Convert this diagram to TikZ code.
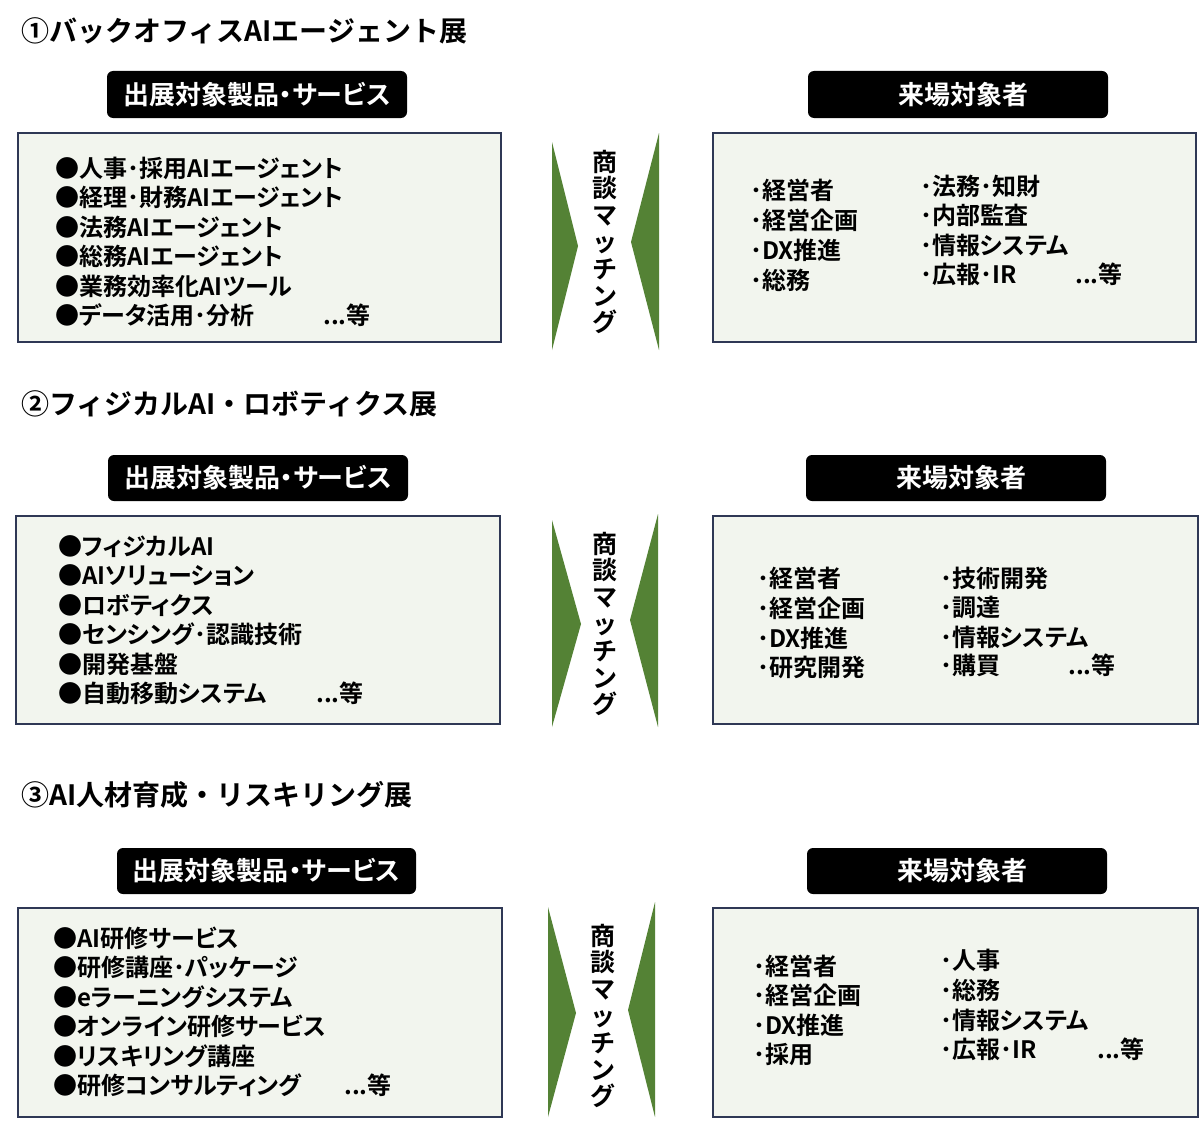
\documentclass[tikz,border=0pt]{standalone}
\usepackage{fontspec}
\setmainfont{Noto Sans CJK JP}[BoldFont={* Bold}]
\newfontfamily\jpp{Noto Sans CJK JP}[BoldFont={* Bold}, RawFeature=+palt]
\definecolor{boxfill}{HTML}{F2F5EE}
\definecolor{boxline}{HTML}{2F3855}
\definecolor{arrowgreen}{HTML}{548235}
\tikzset{
  titletext/.style={anchor=west, inner sep=0pt, font=\bfseries\fontsize{28}{31}\selectfont, text height=24.6pt, text depth=3.4pt},
  labelbox/.style={fill=black, rounded corners=6pt},
  labeltext/.style={text=white, inner sep=0pt, font=\jpp\bfseries\fontsize{26}{28}\selectfont},
  contentbox/.style={fill=boxfill, draw=boxline, line width=2pt},
  itemtext/.style={anchor=west, inner sep=0pt, font=\jpp\bfseries\fontsize{24}{26}\selectfont, text height=21pt, text depth=3pt},
  chevron/.style={fill=arrowgreen, draw=none},
  vtext/.style={align=center, inner sep=0pt, font=\bfseries\fontsize{25}{26.8}\selectfont},
}
\begin{document}
\begin{tikzpicture}[x=1pt,y=-1pt]
\useasboundingbox (0,0) rectangle (1200,1132);
\fill[white] (0,0) rectangle (1200,1132);

% ===== Section 1 =====
\node[titletext] (t1) at (21,31) {①バックオフィスAIエージェント展};
\fill[labelbox] (107,71) rectangle (407,118);
\node[labeltext] (l1) at (257,94.5) {出展対象製品・サービス};
\fill[labelbox] (808,71) rectangle (1108,118);
\node[labeltext] (r1) at (963,94.5) {来場対象者};
\draw[contentbox] (18,133) rectangle (501,342);
\draw[contentbox] (713,133) rectangle (1196,342);
\fill[chevron] (552,142) -- (578,246) -- (552,350) -- cycle;
\fill[chevron] (659,133) -- (631,242) -- (659,350) -- cycle;
\node[vtext] (m1) at (605,242) {商\\談\\マ\\ッ\\チ\\ン\\グ};
\node[itemtext] (a1) at (55,168) {●人事･採用AIエージェント};
\node[itemtext] (a2) at (55,197.5) {●経理･財務AIエージェント};
\node[itemtext] (a3) at (55,227) {●法務AIエージェント};
\node[itemtext] (a4) at (55,256.5) {●総務AIエージェント};
\node[itemtext] (a5) at (55,286) {●業務効率化AIツール};
\node[itemtext] (a6) at (55,315.5) {●データ活用･分析};
\node[itemtext] (a7) at (323,315.5) {...等};
\node[itemtext] (b1) at (750,190) {･経営者};
\node[itemtext] (b2) at (750,220) {･経営企画};
\node[itemtext] (b3) at (750,250) {･DX推進};
\node[itemtext] (b4) at (750,280) {･総務};
\node[itemtext] (c1) at (920,186) {･法務･知財};
\node[itemtext] (c2) at (920,215) {･内部監査};
\node[itemtext] (c3) at (920,245) {･情報システム};
\node[itemtext] (c4) at (920,274) {･広報･IR};
\node[itemtext] (c5) at (1075,274) {...等};

% ===== Section 2 =====
\node[titletext] (t2) at (21,404) {②フィジカルAI・ロボティクス展};
\fill[labelbox] (108,455) rectangle (408,501);
\node[labeltext] (l2) at (258,478) {出展対象製品・サービス};
\fill[labelbox] (806,455) rectangle (1106,501);
\node[labeltext] (r2) at (961,478) {来場対象者};
\draw[contentbox] (16,516) rectangle (500,724);
\draw[contentbox] (713,516) rectangle (1198,724);
\fill[chevron] (552,520) -- (581,624) -- (552,727) -- cycle;
\fill[chevron] (658,514) -- (630,620) -- (658,727) -- cycle;
\node[vtext] (m2) at (605,624) {商\\談\\マ\\ッ\\チ\\ン\\グ};
\node[itemtext] (d1) at (58,546) {●フィジカルAI};
\node[itemtext] (d2) at (58,575.5) {●AIソリューション};
\node[itemtext] (d3) at (58,605) {●ロボティクス};
\node[itemtext] (d4) at (58,634.5) {●センシング･認識技術};
\node[itemtext] (d5) at (58,664) {●開発基盤};
\node[itemtext] (d6) at (58,693.5) {●自動移動システム};
\node[itemtext] (d7) at (316,693.5) {...等};
\node[itemtext] (e1) at (757,578) {･経営者};
\node[itemtext] (e2) at (757,608) {･経営企画};
\node[itemtext] (e3) at (757,638) {･DX推進};
\node[itemtext] (e4) at (757,667) {･研究開発};
\node[itemtext] (f1) at (940,578) {･技術開発};
\node[itemtext] (f2) at (940,607) {･調達};
\node[itemtext] (f3) at (940,637) {･情報システム};
\node[itemtext] (f4) at (940,665) {･購買};
\node[itemtext] (f5) at (1068,665) {...等};

% ===== Section 3 =====
\node[titletext] (t3) at (21,795) {③AI人材育成・リスキリング展};
\fill[labelbox] (117,848) rectangle (416,894);
\node[labeltext] (l3) at (266.5,871) {出展対象製品・サービス};
\fill[labelbox] (807,848) rectangle (1107,894);
\node[labeltext] (r3) at (962,871) {来場対象者};
\draw[contentbox] (18,908) rectangle (502,1117);
\draw[contentbox] (713,908) rectangle (1198,1117);
\fill[chevron] (548,907) -- (576,1013) -- (548,1117) -- cycle;
\fill[chevron] (655,902) -- (628,1010) -- (655,1117) -- cycle;
\node[vtext] (m3) at (603,1016) {商\\談\\マ\\ッ\\チ\\ン\\グ};
\node[itemtext] (g1) at (53,938) {●AI研修サービス};
\node[itemtext] (g2) at (53,967.5) {●研修講座･パッケージ};
\node[itemtext] (g3) at (53,997) {●eラーニングシステム};
\node[itemtext] (g4) at (53,1026.5) {●オンライン研修サービス};
\node[itemtext] (g5) at (53,1056) {●リスキリング講座};
\node[itemtext] (g6) at (53,1085.5) {●研修コンサルティング};
\node[itemtext] (g7) at (344,1085.5) {...等};
\node[itemtext] (h1) at (753,966) {･経営者};
\node[itemtext] (h2) at (753,995) {･経営企画};
\node[itemtext] (h3) at (753,1025) {･DX推進};
\node[itemtext] (h4) at (753,1054) {･採用};
\node[itemtext] (k1) at (940,960) {･人事};
\node[itemtext] (k2) at (940,990) {･総務};
\node[itemtext] (k3) at (940,1020) {･情報システム};
\node[itemtext] (k4) at (940,1049) {･広報･IR};
\node[itemtext] (k5) at (1097,1049) {...等};
\end{tikzpicture}
\end{document}
